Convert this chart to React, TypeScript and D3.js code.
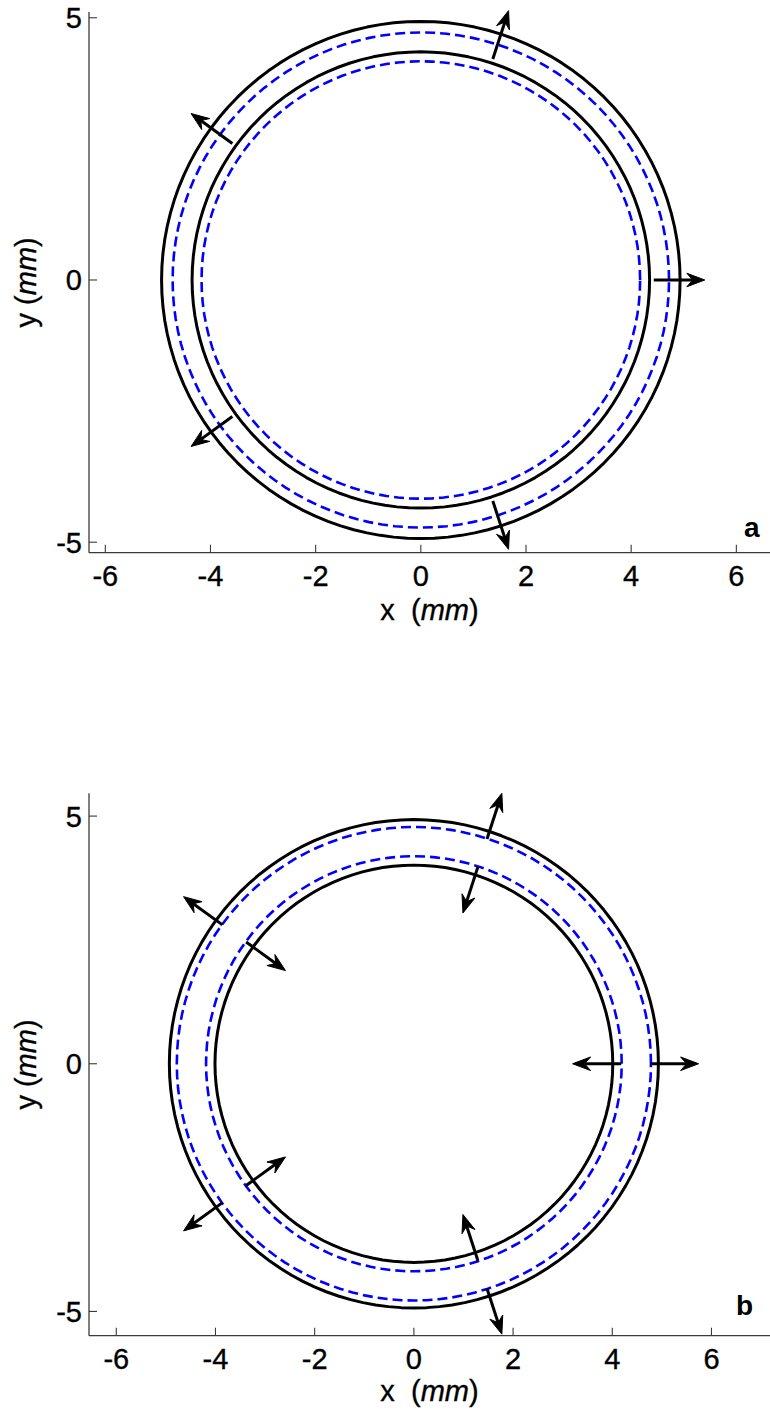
import React from "react";
import * as d3 from "d3";

// ---- data ----
const xTicks = [-6, -4, -2, 0, 2, 4, 6];
const yTicks = [-5, 0, 5];
const arrowAnglesDeg = [0, 72, 144, 216, 288];

const panelASolidRadii = [4.93, 4.35];
const panelADashedRadii = [4.72, 4.17];
const panelAArrows = [[4.43, 5.4]]; // [from radius, to radius]

const panelBSolidRadii = [4.93, 4.01];
const panelBDashedRadii = [4.78, 4.19];
const panelBArrows = [
  [4.77, 5.74],
  [4.18, 3.2],
];

const panelLabels = ["a", "b"];

// ---- layout ----
const W = 770;
const H = 1412;
const FONT = "'Liberation Sans', Arial, Helvetica, sans-serif";
const FS = 29;

const layouts = [
  { left: 89, right: 770, top: 12, bottom: 552.7, xDom: [-6.31, 6.64], yDom: [-5.2, 5.11], labelX: 744, labelY: 537, xLabelY: 620 },
  { left: 89, right: 770, top: 793.3, bottom: 1335.7, xDom: [-6.55, 7.18], yDom: [-5.49, 5.46], labelX: 736, labelY: 1315, xLabelY: 1401 },
];

const panelData = [
  { solid: panelASolidRadii, dashed: panelADashedRadii, arrows: panelAArrows },
  { solid: panelBSolidRadii, dashed: panelBDashedRadii, arrows: panelBArrows },
];

function circlePath(r: number, x: any, y: any) {
  const n = 120;
  const pts: [number, number][] = d3.range(n).map((i) => {
    const t = (i / n) * 2 * Math.PI;
    return [x(r * Math.cos(t)), y(r * Math.sin(t))];
  });
  return d3.line().curve(d3.curveLinearClosed)(pts) as string;
}

function Arrow({ r0, r1, deg, x, y }: any) {
  const t = (deg * Math.PI) / 180;
  const sx = x(r0 * Math.cos(t));
  const sy = y(r0 * Math.sin(t));
  const ex = x(r1 * Math.cos(t));
  const ey = y(r1 * Math.sin(t));
  const dx = ex - sx;
  const dy = ey - sy;
  const len = Math.hypot(dx, dy);
  const ux = dx / len;
  const uy = dy / len;
  const nx = -uy;
  const ny = ux;
  const L = 18;
  const w = 6.8;
  const notch = 6;
  const head = [
    [ex, ey],
    [ex - L * ux + w * nx, ey - L * uy + w * ny],
    [ex - (L - notch) * ux, ey - (L - notch) * uy],
    [ex - L * ux - w * nx, ey - L * uy - w * ny],
  ];
  const lx = ex - (L - notch) * ux;
  const ly = ey - (L - notch) * uy;
  return (
    <g>
      <line x1={sx} y1={sy} x2={lx} y2={ly} stroke="#000" strokeWidth={3} />
      <path d={"M" + head.map((p) => p.join(",")).join("L") + "Z"} fill="#000" stroke="#000" strokeWidth={1} strokeLinejoin="miter" />
    </g>
  );
}

function Panel({ idx }: { idx: number }) {
  const L = layouts[idx];
  const D = panelData[idx];
  const x = d3.scaleLinear().domain(L.xDom).range([L.left, L.right]);
  const y = d3.scaleLinear().domain(L.yDom).range([L.bottom, L.top]);
  const axisColor = "#3a3a3a";
  const midX = (L.left + L.right) / 2;
  const midY = (L.top + L.bottom) / 2;
  const textProps = { fontFamily: FONT, fontSize: FS, fill: "#000", stroke: "#000", strokeWidth: 0.35 };
  return (
    <g>
      {/* data */}
      {D.solid.map((r, i) => (
        <path key={"s" + i} d={circlePath(r, x, y)} fill="none" stroke="#000" strokeWidth={3} strokeLinejoin="round" />
      ))}
      {D.dashed.map((r, i) => (
        <path key={"d" + i} d={circlePath(r, x, y)} fill="none" stroke="#0000ff" strokeWidth={2.6} strokeDasharray="10,5" />
      ))}
      {D.arrows.map((a, i) =>
        arrowAnglesDeg.map((deg) => <Arrow key={i + "-" + deg} r0={a[0]} r1={a[1]} deg={deg} x={x} y={y} />)
      )}
      {/* axes */}
      <line x1={L.left} y1={L.top} x2={L.left} y2={L.bottom} stroke={axisColor} strokeWidth={1.3} />
      <line x1={L.left} y1={L.bottom} x2={L.right} y2={L.bottom} stroke={axisColor} strokeWidth={1.3} />
      {xTicks.map((t) => (
        <g key={"xt" + t}>
          <line x1={x(t)} x2={x(t)} y1={L.bottom} y2={L.bottom - 8} stroke={axisColor} strokeWidth={1.1} />
          <text x={x(t)} y={L.bottom + 33} textAnchor="middle" {...textProps}>
            {t}
          </text>
        </g>
      ))}
      {yTicks.map((t) => (
        <g key={"yt" + t}>
          <line x1={L.left} x2={L.left + 8} y1={y(t)} y2={y(t)} stroke={axisColor} strokeWidth={1.1} />
          <text x={82} y={y(t) + 10.5} textAnchor="end" {...textProps}>
            {t}
          </text>
        </g>
      ))}
      {/* axis labels */}
      <text x={midX} y={L.xLabelY} textAnchor="middle" {...textProps} xmlSpace="preserve">
        {"x  ("}
        <tspan fontStyle="italic">mm</tspan>
        {")"}
      </text>
      <text transform={`translate(36,${midY}) rotate(-90)`} textAnchor="middle" {...textProps}>
        {"y ("}
        <tspan fontStyle="italic">mm</tspan>
        {")"}
      </text>
      <text x={L.labelX} y={L.labelY} fontFamily={FONT} fontSize={28} fontWeight="bold" fill="#000">
        {panelLabels[idx]}
      </text>
    </g>
  );
}

export default function App() {
  return (
    <svg
      width={W}
      height={H}
      viewBox={`0 0 ${W} ${H}`}
      style={{ position: "absolute", left: 0, top: 0, background: "#fff" }}
    >
      <rect width={W} height={H} fill="#fff" />
      <Panel idx={0} />
      <Panel idx={1} />
    </svg>
  );
}
